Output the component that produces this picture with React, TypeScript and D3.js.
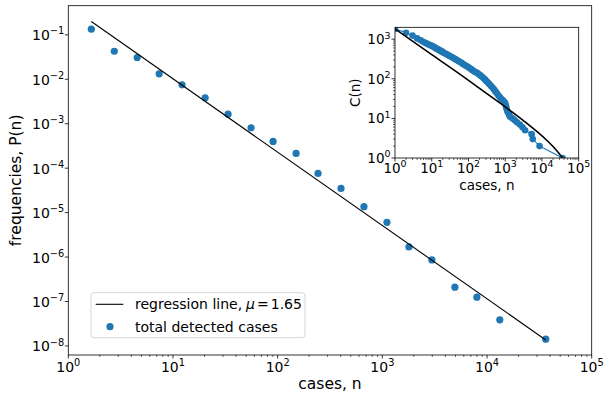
import React from 'react';
import * as d3 from 'd3';

// ---- main chart data (log-binned frequencies) ----
const caseBins = [1.66, 2.75, 4.55, 7.38, 12.2, 20.3, 33.6, 55.7, 90.4, 150, 243, 403, 667, 1107, 1795, 2972, 4932, 8000, 13240, 36400];
const freqs = [0.134, 0.0428, 0.0309, 0.0133, 0.00752, 0.00384, 0.00164, 0.000813, 0.0004, 0.000215, 7.6e-5, 3.5e-5, 1.36e-5, 6.05e-6, 1.69e-6, 8.6e-7, 2.1e-7, 1.25e-7, 3.86e-8, 1.42e-8];
// regression line endpoints
const regN = [1.66, 36400];
const regP = [0.199, 1.36e-8];
const muText = '1.65';

// ---- inset data: cumulative counts C(n) ----
const ccdfN = [1, 2, 3, 4, 5, 6, 7, 8, 9, 10, 11, 12, 13, 14, 15, 16, 17, 18, 19, 20, 22, 24, 26, 28, 30, 33, 36, 40, 44, 48, 53, 58, 64, 70, 77, 85, 93, 102, 112, 123, 135, 148, 162, 178, 195, 214, 235, 258, 283, 310, 340, 373, 410, 450, 494, 542, 595, 653, 717, 787, 864, 948, 1000, 1040, 1070, 1100, 1150, 1200, 1260, 1300, 1350, 1580, 1820, 2090, 2500, 2950, 3470, 5250, 5600, 8600, 36400];
const ccdfC = [1820, 1445, 1230, 1047, 933, 851, 794, 741, 708, 676, 650, 620, 592, 568, 548, 530, 514, 498, 484, 471, 448, 428, 410, 396, 382, 364, 348, 330, 313, 298, 282, 268, 253, 240, 227, 214, 203, 192, 181, 170, 160, 150, 145, 137, 128, 120, 112, 103, 95, 87, 80, 73, 66, 60, 54, 48, 43, 38, 34, 31, 28.5, 26, 24, 21, 19, 17, 15, 14, 13, 12, 11, 10, 9, 8, 7, 6, 5, 4, 3, 2, 1];
// fitted cumulative curve
const fitN = [1, 10, 100, 316, 1000, 2000, 3980, 7940, 12600, 20000, 28200, 36400];
const fitC = [1820, 408, 91.5, 42.2, 19.5, 12.1, 7.36, 4.35, 2.97, 1.95, 1.36, 1];

const mainXExps = [0, 1, 2, 3, 4, 5];
const mainYExps = [-1, -2, -3, -4, -5, -6, -7, -8];
const insetXExps = [0, 1, 2, 3, 4, 5];
const insetYExps = [0, 1, 2, 3];

const BLUE = '#1f77b4';
const FONT = 'DejaVu Sans, sans-serif';

function expStr(e: number) {
  return e < 0 ? '\u2212' + Math.abs(e) : String(e);
}

function Pow({ x, y, e, anchor, size }: { x: number; y: number; e: number; anchor: string; size: number }) {
  return (
    <text x={x} y={y} textAnchor={anchor} fontSize={size} fontFamily={FONT} fill="#000">
      10
      <tspan dy={-0.42 * size} fontSize={size * 0.7}>{expStr(e)}</tspan>
    </text>
  );
}

function minorVals(lo: number, hi: number) {
  const out: number[] = [];
  for (let k = lo; k < hi; k++) {
    for (let m = 2; m <= 9; m++) out.push(m * Math.pow(10, k));
  }
  return out;
}

export default function App() {
  const W = 604, H = 397;
  // main axes
  const L = 68.3, R = 591.7, T = 5.7, B = 355;
  const x = d3.scaleLog().domain([1, 1e5]).range([L, R]);
  const y = d3.scaleLog().domain([Math.pow(10, -8.204), Math.pow(10, -0.344)]).range([B, T]);

  // inset axes
  const iL = 395, iR = 578.7, iT = 27.3, iB = 158;
  const xi = d3.scaleLog().domain([1, 1e5]).range([iL, iR]);
  const yi = d3.scaleLog().domain([1, Math.pow(10, 3.3)]).range([iB, iT]);

  const regLine = d3.line<number>().x((_, i) => x(regN[i])).y((_, i) => y(regP[i]));
  const ccdfLine = d3.line<number>().x((_, i) => xi(ccdfN[i])).y((_, i) => yi(ccdfC[i]));
  const fitLine = d3.line<number>().x((_, i) => xi(fitN[i])).y((_, i) => yi(fitC[i])).curve(d3.curveMonotoneX);

  const tickSize = 14;
  const insetTick = 13.5;

  return (
    <svg width={W} height={H} style={{ position: 'absolute', left: 0, top: 0, background: '#fff' }} xmlns="http://www.w3.org/2000/svg">
      <defs>
        <clipPath id="insetClip">
          <rect x={iL} y={iT} width={iR - iL} height={iB - iT} />
        </clipPath>
      </defs>
      <rect x={0} y={0} width={W} height={H} fill="#fff" />
      {/* ---------- main chart ---------- */}
      <g>
        {caseBins.map((n, i) => (
          <circle key={i} cx={x(n)} cy={y(freqs[i])} r={3.6} fill={BLUE} />
        ))}
        <path d={regLine(regN) || ''} fill="none" stroke="#000" strokeWidth={1.1} />
        <rect x={L} y={T} width={R - L} height={B - T} fill="none" stroke="#000" strokeWidth={0.8} />
        {minorVals(0, 5).map((v, i) => (
          <line key={'mx' + i} x1={x(v)} x2={x(v)} y1={B} y2={B + 2} stroke="#000" strokeWidth={0.6} />
        ))}
        {mainXExps.map((e) => (
          <g key={'x' + e}>
            <line x1={x(Math.pow(10, e))} x2={x(Math.pow(10, e))} y1={B} y2={B + 3.5} stroke="#000" strokeWidth={0.8} />
            <Pow x={x(Math.pow(10, e))} y={B + 17} e={e} anchor="middle" size={tickSize} />
          </g>
        ))}
        {mainYExps.map((e) => (
          <g key={'y' + e}>
            <line x1={L - 3.5} x2={L} y1={y(Math.pow(10, e))} y2={y(Math.pow(10, e))} stroke="#000" strokeWidth={0.8} />
            <Pow x={L - 4} y={y(Math.pow(10, e)) + 5.5} e={e} anchor="end" size={tickSize} />
          </g>
        ))}
        <text x={(L + R) / 2} y={389} textAnchor="middle" fontSize={15.5} fontFamily={FONT}>cases, n</text>
        <text transform={`translate(21,${(T + B) / 2}) rotate(-90)`} textAnchor="middle" fontSize={15.5} fontFamily={FONT}>frequencies, P(n)</text>

        {/* legend */}
        <rect x={91} y={292.7} width={214} height={45} rx={3} fill="#fff" fillOpacity={0.8} stroke="#ccc" strokeWidth={0.8} />
        <line x1={95.7} x2={123.3} y1={304.3} y2={304.3} stroke="#000" strokeWidth={1.1} />
        <text x={135} y={309.3} fontSize={14} fontFamily={FONT}>
          regression line,
          <tspan dx={4} fontStyle="italic">μ</tspan>
          <tspan dx={2}>=</tspan>
          <tspan dx={2}>{muText}</tspan>
        </text>
        <circle cx={110} cy={326.7} r={3.6} fill={BLUE} />
        <text x={135} y={331.5} fontSize={14} fontFamily={FONT}>total detected cases</text>
      </g>

      {/* ---------- inset ---------- */}
      <g>
        <rect x={iL} y={iT} width={iR - iL} height={iB - iT} fill="#fff" />
        <g clipPath="url(#insetClip)">
          <path d={ccdfLine(ccdfN) || ''} fill="none" stroke={BLUE} strokeWidth={1.1} />
          {ccdfN.map((n, i) => (
            <circle key={i} cx={xi(n)} cy={yi(ccdfC[i])} r={3.3} fill={BLUE} />
          ))}
          <path d={fitLine(fitN) || ''} fill="none" stroke="#000" strokeWidth={1.6} />
        </g>
        <rect x={iL} y={iT} width={iR - iL} height={iB - iT} fill="none" stroke="#000" strokeWidth={0.8} />
        {minorVals(0, 5).map((v, i) => (
          <line key={'imx' + i} x1={xi(v)} x2={xi(v)} y1={iB} y2={iB + 2} stroke="#000" strokeWidth={0.6} />
        ))}
        {minorVals(0, 4).filter((v) => v <= Math.pow(10, 3.3)).map((v, i) => (
          <line key={'imy' + i} x1={iL - 2} x2={iL} y1={yi(v)} y2={yi(v)} stroke="#000" strokeWidth={0.6} />
        ))}
        {insetXExps.map((e) => (
          <g key={'ix' + e}>
            <line x1={xi(Math.pow(10, e))} x2={xi(Math.pow(10, e))} y1={iB} y2={iB + 3.5} stroke="#000" strokeWidth={0.8} />
            <Pow x={xi(Math.pow(10, e))} y={iB + 15} e={e} anchor="middle" size={insetTick} />
          </g>
        ))}
        {insetYExps.map((e) => (
          <g key={'iy' + e}>
            <line x1={iL - 3.5} x2={iL} y1={yi(Math.pow(10, e))} y2={yi(Math.pow(10, e))} stroke="#000" strokeWidth={0.8} />
            <Pow x={iL - 4.5} y={yi(Math.pow(10, e)) + 5} e={e} anchor="end" size={insetTick} />
          </g>
        ))}
        <text x={(iL + iR) / 2} y={190} textAnchor="middle" fontSize={13.5} fontFamily={FONT}>cases, n</text>
        <text transform={`translate(360,${(iT + iB) / 2}) rotate(-90)`} textAnchor="middle" fontSize={13.5} fontFamily={FONT}>C(n)</text>
      </g>
    </svg>
  );
}
